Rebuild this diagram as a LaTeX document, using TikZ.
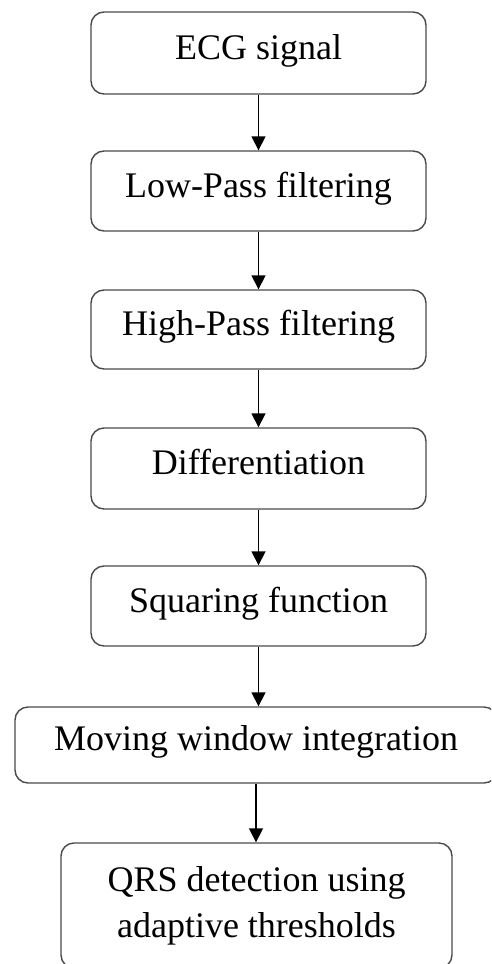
\documentclass[tikz,border=0pt]{standalone}
\usepackage{fontspec}
\setmainfont{Liberation Serif}
\usetikzlibrary{arrows.meta}
\definecolor{boxgray}{HTML}{4A4A4A}
\begin{document}
\begin{tikzpicture}[x=1pt,y=-1pt,
  stage/.style={draw=boxgray, line width=1.4pt, rounded corners=13pt, fill=white,
    inner sep=0pt, font=\fontsize{36}{46}\selectfont, align=center,
    text height=24pt, text depth=12pt},
  flow/.style={line width=1.7pt, -{Triangle[width=14pt,length=14pt]}}]
  \useasboundingbox (0,0) rectangle (491,964);
  \clip (0,0) rectangle (491,964);
  \fill[white] (0,0) rectangle (491,964);

  % processing stages
  \node[stage, minimum width=335pt, minimum height=82pt] (ecg) at (258.5,53) {ECG signal};
  \node[stage, minimum width=335pt, minimum height=80pt] (lp)  at (258.5,191) {Low-Pass filtering};
  \node[stage, minimum width=335pt, minimum height=79pt] (hp)  at (258.5,329.5) {High-Pass filtering};
  \node[stage, minimum width=335pt, minimum height=81pt] (dif) at (258.5,468.5) {Differentiation};
  \node[stage, minimum width=335pt, minimum height=80pt] (sq)  at (258.5,606) {Squaring function};
  \node[stage, minimum width=482pt, minimum height=76pt, text depth=14pt] (mwi) at (256,745) {Moving window integration};
  \node[stage, minimum width=391pt, minimum height=125pt, text height=, text depth=] (qrs) at (256.5,905.5)
    {QRS detection using\\adaptive thresholds};

  % connectors
  \draw[flow] (ecg.south) -- (lp.north);
  \draw[flow] (lp.south) -- (hp.north);
  \draw[flow] (hp.south) -- (dif.north);
  \draw[flow] (dif.south) -- (sq.north);
  \draw[flow] (sq.south) -- (sq.south |- mwi.north);
  \draw[flow] (mwi.south) -- (mwi.south |- qrs.north);
\end{tikzpicture}
\end{document}
